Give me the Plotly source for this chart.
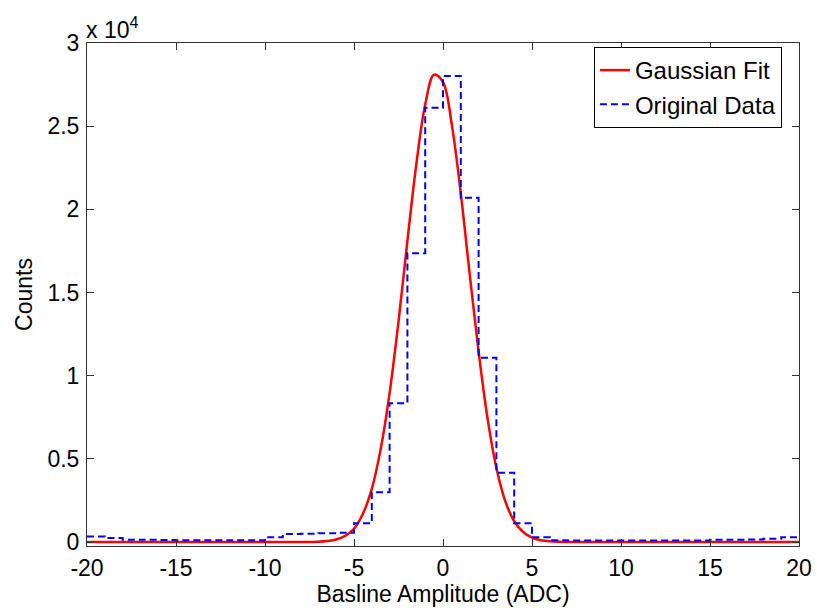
import plotly.graph_objects as go

# ---- data ----
bin_left_edges = list(range(-20, 20))  # bins of width 1, -20 .. 19
bin_counts = [330, 240, 140, 130, 120, 110, 110, 110, 100, 100,
              280, 480, 500, 520, 550, 1130, 2990, 8340, 17360, 26110,
              28020, 20700, 11080, 4170, 1130, 280, 100, 90, 90, 90,
              90, 90, 90, 90, 90, 130, 140, 150, 200, 280]

fit_x = [-20, -12, -9, -8, -7, -6.5, -6, -5.5, -5, -4.5, -4, -3.5, -3, -2.5,
         -2, -1.5, -1, -0.5, 0, 0.5, 1, 1.5, 2, 2.5, 3, 3.5, 4, 4.5, 5, 5.5,
         6, 6.5, 7, 8, 12, 20]
fit_y = [0, 0, 0, 2, 20, 60, 150, 370, 800, 1700, 3200, 5600, 8950, 13250,
         18100, 22700, 26300, 28100, 27650, 25050, 20950, 16100, 11450, 7450,
         4450, 2450, 1250, 600, 260, 105, 40, 14, 4, 0, 0, 0]

x_tickvals = [-20, -15, -10, -5, 0, 5, 10, 15, 20]
x_ticktext = ['-20', '-15', '-10', '-5', '0', '5', '10', '15', '20']
y_tickvals = [0, 5000, 10000, 15000, 20000, 25000, 30000]
y_ticktext = ['0', '0.5', '1', '1.5', '2', '2.5', '3']

FONT = "Liberation Sans, Arial, sans-serif"
FS = 23

stairs_x = bin_left_edges + [20]
stairs_y = bin_counts + [bin_counts[-1]]

fig = go.Figure()
fig.add_trace(go.Scatter(x=fit_x, y=fit_y, mode='lines', name='Gaussian Fit',
                         line=dict(color='#FF0000', width=2.5, shape='spline')))
fig.add_trace(go.Scatter(x=stairs_x, y=stairs_y, mode='lines', name='Original Data',
                         line=dict(color='#0000FF', width=2, shape='hv', dash='7px,4px')))

axis_common = dict(showline=True, linecolor='#333333', linewidth=1, mirror='ticks',
                   ticks='inside', ticklen=7, tickcolor='#333333', showgrid=False,
                   zeroline=False, automargin=False,
                   tickfont=dict(family=FONT, size=FS, color='black'))

fig.update_xaxes(range=[-20, 20], tickvals=x_tickvals, ticktext=x_ticktext,
                 title=dict(text='Basline Amplitude (ADC)', font=dict(family=FONT, size=FS, color='black'), standoff=4),
                 ticklabelstandoff=1, **axis_common)
fig.update_yaxes(range=[-240, 30000], tickvals=y_tickvals, ticktext=y_ticktext,
                 title=dict(text='Counts', font=dict(family=FONT, size=FS, color='black'), standoff=8),
                 ticklabelstandoff=2, **axis_common)

fig.add_annotation(text='x 10<sup>4</sup>', xref='paper', yref='paper', x=0, y=1,
                   xanchor='left', yanchor='bottom', showarrow=False, yshift=-2, xshift=-3,
                   font=dict(family=FONT, size=FS, color='black'))

fig.update_layout(
    width=817, height=612,
    margin=dict(l=87, r=18, t=43, b=66),
    paper_bgcolor='white', plot_bgcolor='white',
    font=dict(family=FONT, size=FS, color='black'),
    legend=dict(x=0.976, y=0.992, xanchor='right', yanchor='top',
                bordercolor='black', borderwidth=1, bgcolor='white',
                font=dict(family=FONT, size=24, color='black')),
)

fig.write_html("out.html")
